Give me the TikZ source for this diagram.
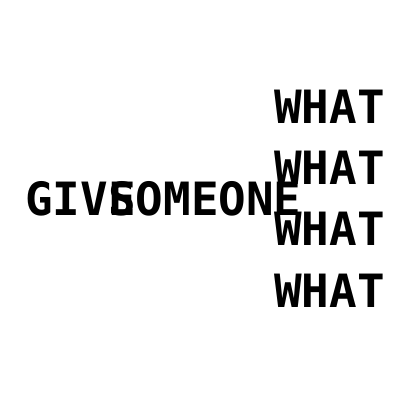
\documentclass[tikz,border=0pt]{standalone}
\usepackage{fontspec}
\newfontfamily\monob{DejaVu Sans Mono Bold}
\tikzset{word/.style={anchor=base west, inner sep=0pt, font=\monob\fontsize{34.4}{40}\selectfont, text=black}}
\begin{document}
\begin{tikzpicture}[x=0.75pt,y=-0.75pt]
\useasboundingbox (0,0) rectangle (400,400);
\node[word] (give) at (25,215) {GIVE};
\node[word] (someone) at (108,215) {SOMEONE};
\node[word] (w1) at (274,123) {WHAT};
\node[word] (w2) at (274,184) {WHAT};
\node[word] (w3) at (274,245) {WHAT};
\node[word] (w4) at (274,307) {WHAT};
\end{tikzpicture}
\end{document}
